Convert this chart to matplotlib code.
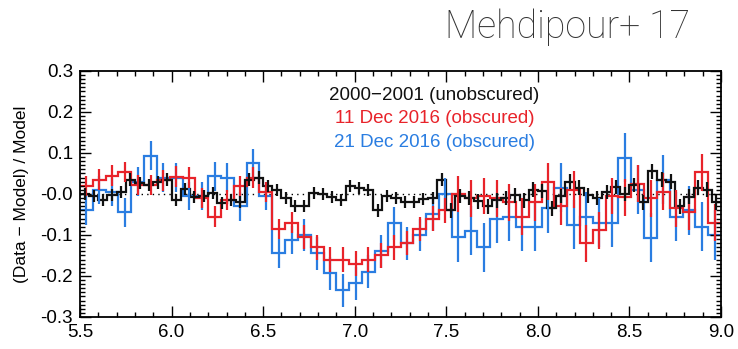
import numpy as np
import matplotlib.pyplot as plt
from matplotlib.ticker import MultipleLocator, FixedLocator, FixedFormatter

# 2000-2001 (unobscured): fine bins, 0.05 wide
black_vals = [0.000, -0.005, -0.015, -0.003, 0.005, 0.035, 0.027, 0.022, 0.028, 0.035,
              -0.015, 0.012, -0.008, -0.005, 0.003, -0.022, -0.015, -0.020, 0.035, 0.040,
              0.020, 0.010, -0.010, -0.030, -0.030, 0.003, 0.000, -0.007, -0.015, 0.020,
              0.015, 0.010, -0.040, -0.005, -0.010, -0.020, -0.020, -0.012, -0.010, 0.035,
              -0.040, -0.005, -0.010, -0.018, -0.030, -0.015, -0.010, -0.003, -0.015, 0.010,
              0.007, -0.035, -0.005, 0.030, 0.015, -0.003, -0.010, 0.005, 0.017, 0.000,
              0.022, -0.020, 0.055, 0.035, 0.030, -0.030, -0.007, 0.015, 0.010, -0.020]
black_err = [0.015] * 40 + [0.018] * 30

# 11 Dec 2016 and 21 Dec 2016 (obscured): 0.07 wide bins
red_vals = [0.020, 0.035, 0.045, 0.053, 0.022, 0.022, 0.033, 0.042, 0.040, -0.010,
            -0.055, -0.015, 0.020, 0.040, 0.005, -0.085, -0.070, -0.105, -0.130, -0.160,
            -0.160, -0.170, -0.160, -0.150, -0.130, -0.120, -0.085, -0.060, -0.040, 0.000,
            -0.010, -0.005, -0.010, -0.020, -0.055, -0.020, 0.030, -0.030, 0.010, -0.120,
            -0.088, -0.005, -0.008, 0.025, -0.010, 0.005, -0.035, -0.043, 0.053, -0.070]
red_err = [0.025] * 17 + [0.03] * 12 + [0.045] * 21

blue_vals = [-0.040, 0.010, 0.005, -0.045, 0.030, 0.093, 0.040, 0.040, -0.005, -0.005,
             0.043, 0.040, -0.030, 0.075, -0.005, -0.145, -0.112, -0.100, -0.145, -0.193,
             -0.235, -0.218, -0.190, -0.140, -0.072, -0.120, -0.100, -0.050, 0.000, -0.105,
             -0.090, -0.130, -0.060, -0.055, -0.080, -0.080, -0.035, 0.015, -0.075, -0.055,
             -0.070, -0.070, 0.088, 0.010, -0.107, 0.035, -0.055, -0.040, -0.080, -0.100]
blue_err = [0.035] * 17 + [0.04] * 12 + [0.06] * 21

x_min, x_max = 5.5, 9.0
black_edges = np.linspace(x_min, x_max, len(black_vals) + 1)
rb_edges = np.linspace(x_min, x_max, len(red_vals) + 1)

labels = ['2000\u22122001 (unobscured)', '11 Dec 2016 (obscured)', '21 Dec 2016 (obscured)']
colors = ['#111111', '#e8232a', '#2a7de1']

y_ticks = [0.3, 0.2, 0.1, 0.0, -0.1, -0.2, -0.3]
y_ticklabels = ['0.3', '0.2', '0.1', '-0.0', '-0.1', '-0.2', '-0.3']
x_ticks = [5.5, 6.0, 6.5, 7.0, 7.5, 8.0, 8.5, 9.0]

plt.rcParams['font.family'] = ['Liberation Sans', 'DejaVu Sans']

fig = plt.figure(figsize=(7.38, 3.49), dpi=100)
ax = fig.add_axes([0.1084, 0.0917, 0.8686, 0.705])

def draw(edges, vals, err, color):
    vals = np.array(vals)
    centers = 0.5 * (edges[:-1] + edges[1:])
    ax.stairs(vals, edges, color=color, lw=1.6, baseline=None)
    ax.errorbar(centers, vals, yerr=err, fmt='none', ecolor=color, elinewidth=1.6, capsize=0)

draw(rb_edges, blue_vals, blue_err, colors[2])
draw(rb_edges, red_vals, red_err, colors[1])
draw(black_edges, black_vals, black_err, colors[0])

ax.axhline(0.0, color='black', lw=1, ls=(0, (1, 3)), zorder=0)

ax.set_xlim(x_min, x_max)
ax.set_ylim(-0.3, 0.3)

ax.xaxis.set_major_locator(FixedLocator(x_ticks))
ax.set_xticklabels([f'{t:.1f}' for t in x_ticks])
ax.xaxis.set_minor_locator(MultipleLocator(0.1))
ax.yaxis.set_major_locator(FixedLocator(y_ticks))
ax.yaxis.set_major_formatter(FixedFormatter(y_ticklabels))
ax.yaxis.set_minor_locator(MultipleLocator(0.01))

ax.tick_params(which='both', direction='in', top=True, right=True, width=1, labelsize=13.5)
ax.tick_params(which='major', length=8, pad=5)
ax.tick_params(which='minor', length=3.5)
for s in ax.spines.values():
    s.set_linewidth(1.3)

ax.set_ylabel('(Data \u2212 Model) / Model', fontsize=12.5, labelpad=8)

text_y = [0.229, 0.172, 0.115]
for lab, col, ty in zip(labels, colors, text_y):
    ax.text(7.436, ty, lab, color=col, fontsize=13.5, ha='center', va='baseline')

fig.text(0.935, 0.923, 'Mehdipour+ 17', fontsize=27, ha='right', va='center',
         family='Roboto', fontweight='light', color='#333333')

fig.savefig('out.png', dpi=100)
